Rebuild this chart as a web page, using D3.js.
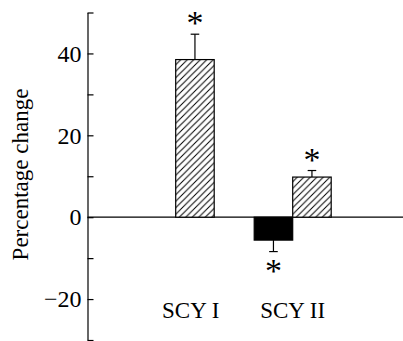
<!DOCTYPE html>
<html>
<head>
<meta charset="utf-8">
<script src="https://cdn.jsdelivr.net/npm/d3@7"></script>
<style>
  html, body { margin: 0; padding: 0; background: #fff; }
  svg { display: block; }
  text { font-family: "Liberation Serif", "Times New Roman", serif; fill: #000; }
</style>
</head>
<body>
<svg id="chart" width="403" height="341"></svg>
<script>
// ---- data ----
const groups = ["SCY I", "SCY II"];
const series = ["solid", "hatched"];
const solidValues = [0, -5.6];
const hatchedValues = [38.5, 9.8];
const solidErrors = [0, 2.8];
const hatchedErrors = [6.2, 1.6];
const solidStars = [false, true];
const hatchedStars = [true, true];
const tickValues = [-30, -20, -10, 0, 10, 20, 30, 40, 50];
const tickLabels = [-20, 0, 20, 40];
const yLabel = "Percentage change";

// ---- layout ----
const W = 403, H = 341;
const FONT = "'Liberation Serif', 'Times New Roman', serif";
const svg = d3.select("#chart");
const axisX = 87.5;

const y = d3.scaleLinear().domain([-30, 50]).range([340, 12.5]);
const x0 = d3.scaleBand().domain(groups).range([117.2, 351.2]).paddingInner(0).paddingOuter(0);
const barW = 38.5;
const x1 = d3.scaleBand().domain(series)
  .range([x0.bandwidth() / 2 - barW, x0.bandwidth() / 2 + barW]);

// hatch pattern
const defs = svg.append("defs");
const pat = defs.append("pattern")
  .attr("id", "hatch").attr("patternUnits", "userSpaceOnUse")
  .attr("width", 6.5).attr("height", 6.5);
pat.append("rect").attr("width", 6.5).attr("height", 6.5).attr("fill", "#fff");
pat.append("path")
  .attr("d", "M-1,1 L1,-1 M0,6.5 L6.5,0 M5.5,7.5 L7.5,5.5")
  .attr("stroke", "#000").attr("stroke-width", 1);

// zero line
svg.append("line")
  .attr("x1", axisX).attr("x2", W)
  .attr("y1", y(0)).attr("y2", y(0))
  .attr("stroke", "#000").attr("stroke-width", 1.2);

// bars
const rows = [];
groups.forEach((g, i) => {
  rows.push({ g, s: "solid", v: solidValues[i], e: solidErrors[i], star: solidStars[i] });
  rows.push({ g, s: "hatched", v: hatchedValues[i], e: hatchedErrors[i], star: hatchedStars[i] });
});

const starSize = 34;
const barG = svg.append("g");
rows.forEach(d => {
  const bx = x0(d.g) + x1(d.s);
  const cx = bx + x1.bandwidth() / 2;
  if (d.v !== 0) {
    barG.append("rect")
      .attr("x", bx).attr("width", x1.bandwidth())
      .attr("y", y(Math.max(0, d.v)))
      .attr("height", Math.abs(y(d.v) - y(0)))
      .attr("fill", d.s === "solid" ? "#000" : "url(#hatch)")
      .attr("stroke", "#000").attr("stroke-width", 1.2);
  }
  if (d.e > 0) {
    const ev = d.v >= 0 ? d.v + d.e : d.v - d.e;
    barG.append("line")
      .attr("x1", cx).attr("x2", cx)
      .attr("y1", y(d.v)).attr("y2", y(ev))
      .attr("stroke", "#000").attr("stroke-width", 1.2);
    barG.append("line")
      .attr("x1", cx - 4.3).attr("x2", cx + 4.3)
      .attr("y1", y(ev)).attr("y2", y(ev))
      .attr("stroke", "#000").attr("stroke-width", 1.2);
    if (d.star) {
      const sy = d.v >= 0 ? y(ev) - 15.5 : y(ev) + 15;
      barG.append("text")
        .attr("x", cx).attr("y", sy + 0.46 * starSize)
        .attr("text-anchor", "middle")
        .style("font-family", FONT)
        .style("font-size", starSize + "px")
        .text("*");
    }
  }
});

// y axis
const yAxis = d3.axisLeft(y)
  .tickValues(tickValues)
  .tickSizeInner(-6).tickSizeOuter(0).tickPadding(6)
  .tickFormat(d => tickLabels.includes(d) ? (d < 0 ? "\u2212" + Math.abs(d) : String(d)) : "");
const ax = svg.append("g").attr("transform", `translate(${axisX},0)`).call(yAxis);
ax.attr("font-family", null).attr("font-size", null);
ax.select(".domain").attr("stroke", "#000").attr("stroke-width", 1.2);
ax.selectAll(".tick line").attr("stroke", "#000").attr("stroke-width", 1.2);
ax.selectAll(".tick text")
  .style("font-family", FONT)
  .style("font-size", "24px").attr("fill", "#000");

// category labels
const labelShift = { "SCY I": 15, "SCY II": 0 };
svg.append("g").selectAll("text").data(groups).join("text")
  .attr("x", d => x0(d) + x0.bandwidth() / 2 + labelShift[d])
  .attr("y", 318.3)
  .attr("text-anchor", "middle")
  .style("font-family", FONT)
  .style("font-size", "23px")
  .text(d => d);

// y label
svg.append("text")
  .attr("transform", `translate(28,${174.5}) rotate(-90)`)
  .attr("text-anchor", "middle")
  .style("font-family", FONT)
  .style("font-size", "23px")
  .text(yLabel);
</script>
</body>
</html>
